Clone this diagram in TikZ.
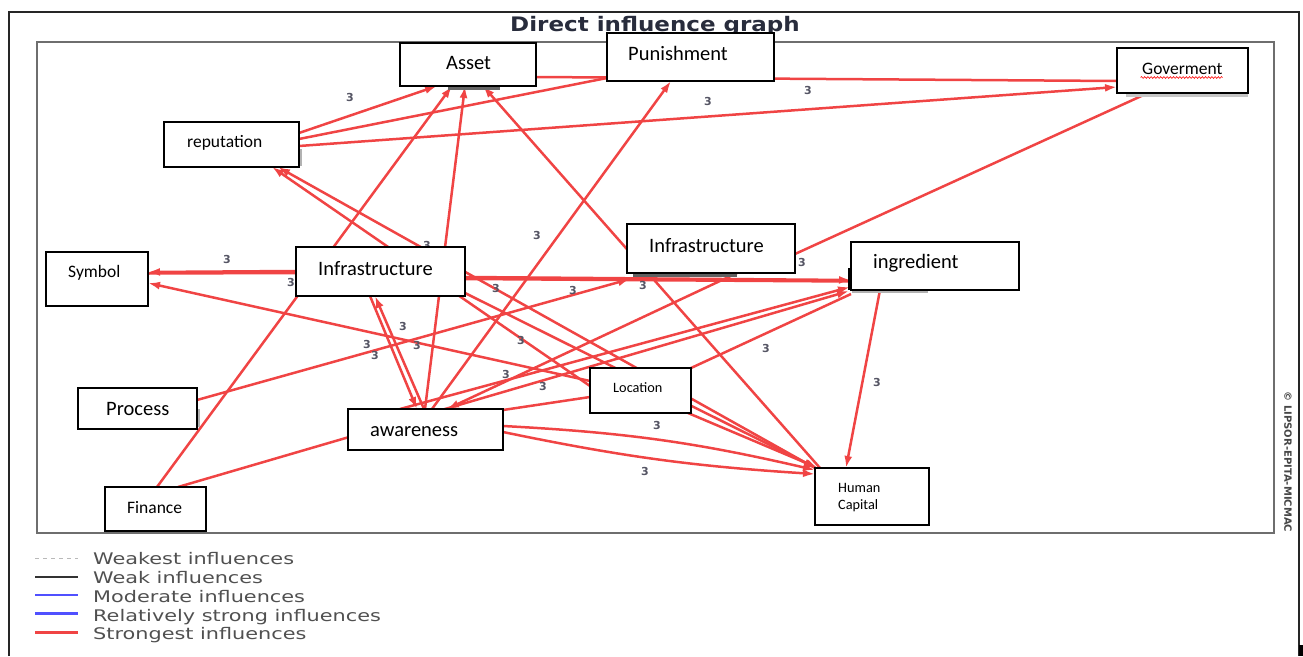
\documentclass[tikz,border=0pt]{standalone}
\usepackage{fontspec}
\setmainfont{Carlito}
\newfontfamily\legfont{DejaVu Sans}
\usetikzlibrary{arrows.meta,calc,decorations.pathmorphing}
\definecolor{edgered}{RGB}{240,68,68}
\definecolor{numgray}{RGB}{85,85,100}
\definecolor{legtext}{RGB}{80,80,80}
\definecolor{titlecol}{RGB}{40,44,60}
\definecolor{framegray}{RGB}{110,110,110}
\definecolor{modblue}{RGB}{80,80,255}
\pgfdeclarelayer{base}
\pgfdeclarelayer{edgelayer}
\pgfdeclarelayer{numlayer}
\pgfsetlayers{base,edgelayer,numlayer,main}
\begin{document}
\begin{tikzpicture}[x=1pt,y=-1pt,
  box/.style={draw=black,line width=1.4pt,fill=white,inner sep=0pt,rectangle},
  lbl/.style={inner sep=0pt,anchor=base west,font=\fontsize{20.5}{24}\selectfont},
  lblm/.style={lbl,font=\fontsize{17.5}{21}\selectfont},
  lbls/.style={lbl,font=\fontsize{14.3}{17}\selectfont},
  edge/.style={draw=edgered,line width=2.5pt,-{Latex[length=12pt,width=8pt]}},
  edgeplain/.style={draw=edgered,line width=2.5pt},
  num/.style={font=\legfont\bfseries\fontsize{11}{12}\selectfont,text=numgray,inner sep=0pt},
  shadowbox/.style={fill=gray!80!black,draw=none},
  legtxt/.style={anchor=base west,inner sep=0pt,text=legtext,font=\legfont\fontsize{16}{18}\selectfont},
]
\useasboundingbox (0,0) rectangle (1303,656);

% ---- boxes ----
\node[box,minimum width=136pt,minimum height=43pt] (asset) at (468,64.5) {};
\node[box,minimum width=167pt,minimum height=48pt] (pun) at (690.5,57) {};
\node[box,minimum width=131pt,minimum height=45pt] (gov) at (1182.5,70.5) {};
\node[box,minimum width=135pt,minimum height=45pt] (rep) at (231.5,144.5) {};
\node[box,minimum width=102pt,minimum height=54pt] (sym) at (97,279) {};
\node[box,minimum width=169pt,minimum height=49pt] (infL) at (380.5,271.5) {};
\node[box,minimum width=168pt,minimum height=49pt] (infR) at (711,248.5) {};
\node[box,minimum width=168pt,minimum height=48pt] (ingr) at (935,266) {};
\node[box,minimum width=101pt,minimum height=45pt] (loc) at (640.5,390.5) {};
\node[box,minimum width=119pt,minimum height=41pt] (proc) at (137.5,408.5) {};
\node[box,minimum width=155pt,minimum height=41pt] (awr) at (425.5,429.5) {};
\node[box,minimum width=101pt,minimum height=44pt] (fin) at (155.5,509) {};
\node[box,minimum width=114pt,minimum height=57pt] (hc) at (872,496.5) {};

% ---- box texts ----
\node[lbl] (assetT) at (446,69) {Asset};
\node[lbl] (punT) at (628,60) {Punishment};
\node[lblm] (govT) at (1142,74) {Goverment};
\node[lblm] (repT) at (187,147) {reputation};
\node[lblm] (symT) at (68,277) {Symbol};
\node[lbl] (infLT) at (318,275) {Infrastructure};
\node[lbl] (infRT) at (649,252) {Infrastructure};
\node[lbl] (ingrT) at (873,268) {ingredient};
\node[lbls] (locT) at (613,392) {Location};
\node[lbl] (procT) at (106,415) {Process};
\node[lbl] (awrT) at (370,436) {awareness};
\node[lblm] (finT) at (127,513) {Finance};
\node[lbls] (hcT1) at (838,492) {Human};
\node[lbls] (hcT2) at (838,509) {Capital};
\draw[red,line width=0.6pt,decorate,decoration={snake,amplitude=0.9pt,segment length=3.2pt}]
  ($(gov)+(-42,7)$) -- ($(gov)+(40,7)$);

% ---- frames and title ----
\begin{pgfonlayer}{base}
  \draw[line width=2.5pt,black!85] (9,656) -- (9,12) -- (1299,12) -- (1299,656);
  \fill[black] (1299,645) rectangle (1303,656);
  \draw[line width=2pt,framegray] (36.5,42) rectangle (1274,533);
  \begin{scope}
    \clip (500,0) rectangle (830,33);
    \node[anchor=base west,inner sep=0pt,text=titlecol,font=\legfont\bfseries\fontsize{20}{24}\selectfont] (title) at (510,31.7) {\scalebox{1.15}[1]{Direct influence graph}};
  \end{scope}
\end{pgfonlayer}

% ---- shadows and numbers ----
\begin{pgfonlayer}{numlayer}
  \fill[shadowbox] ($(asset)+(-20,21.5)$) rectangle ($(asset)+(32,25.5)$);
  \fill[gray!45] ($(gov)+(-57,22.5)$) rectangle ($(gov)+(65.5,26)$);
  \fill[gray!60] ($(rep)+(67.5,4)$) rectangle ($(rep)+(70.5,21)$);
  \fill[gray!75!black] ($(infR)+(-78,24.5)$) rectangle ($(infR)+(26,28.5)$);
  \fill[black] ($(ingr)+(-87,2)$) rectangle ($(ingr)+(-83,24)$);
  \fill[gray!60] ($(ingr)+(-83,24)$) rectangle ($(ingr)+(-7,27)$);
  \fill[gray!60] ($(proc)+(59.5,0)$) rectangle ($(proc)+(62.5,18)$);
  \foreach [count=\i] \p in {(350,97),(708,101),(808,90),(537,235),(227,259),(291,282),(427,245),(496,288),(573,290),(643,285),(802,262),(403,326),(367,344),(375,355),(417,345),(521,340),(506,374),(543,386),(766,348),(877,382),(657,425),(645,471)}
    \node[num] (n\i) at \p {3};
\end{pgfonlayer}

% ---- connectors ----
\begin{pgfonlayer}{edgelayer}
  \draw[edge] ($(rep)+(67.5,-11.5)$) -- ($(asset)+(-31,21.5)$);
  \draw[edgeplain] ($(rep)+(67.5,-5.5)$) -- ($(pun)+(-83.5,21)$);
  \draw[edge] ($(rep)+(67.5,1.5)$) -- ($(gov)+(-65.5,16.5)$);
  \draw[edgeplain] ($(asset)+(68,12.5)$) -- ($(gov)+(-65.5,10.5)$);
  \draw[edge] ($(fin)+(1.5,-22)$) -- ($(asset)+(-16,21.5)$);
  \draw[edge] ($(awr)+(-0.5,-20.5)$) -- ($(asset)+(-3,21.5)$);
  \draw[edge] ($(hc)+(-52,-28.5)$) -- ($(asset)+(15,21.5)$);
  \draw[edge] ($(awr)+(6.5,-20.5)$) -- ($(pun)+(-19.5,24)$);
  \draw[edge] ($(infL)+(-84.5,-0.5)$) -- ($(sym)+(51,-7)$);
  \draw[edgeplain] ($(sym)+(51,-5.5)$) -- ($(infL)+(-84.5,1.5)$);
  \draw[edge] ($(loc)+(-50.5,-9.5)$) -- ($(sym)+(51,4)$);
  \draw[edge] ($(infL)+(84.5,5.5)$) -- ($(ingr)+(-84,14)$);
  \draw[edgeplain] ($(infL)+(84.5,7.5)$) -- ($(ingr)+(-84,15.5)$);
  \draw[edge] ($(proc)+(59.5,-8.5)$) -- ($(infR)+(-81,30.5)$);
  \draw[edge] ($(infL)+(-10.5,24.5)$) -- ($(awr)+(-8.5,-20.5)$);
  \draw[edge] ($(awr)+(-1.5,-20.5)$) -- ($(infL)+(-5.5,24.5)$);
  \draw[edge] ($(fin)+(22.5,-22)$) -- ($(ingr)+(-86,25)$);
  \draw[edgeplain] ($(loc)+(50.5,-22.5)$) -- ($(ingr)+(-84,28)$);
  \draw[edge] ($(infR)+(26,24.5)$) -- ($(awr)+(21.5,-20.5)$);
  \draw[edge] ($(ingr)+(-55,24)$) -- ($(hc)+(-26,-28.5)$);
  \draw[edgeplain] ($(infR)+(84,5.5)$) -- ($(gov)+(-34.5,22.5)$);
  \draw[edge] ($(awr)+(77.5,-3.5)$) to[bend left=5] ($(hc)+(-57,-26.5)$);
  \draw[edge] ($(awr)+(77.5,2.5)$) to[bend right=4] ($(hc)+(-57,-22.5)$);
  \draw[edge] ($(loc)+(47.5,22.5)$) -- ($(hc)+(-54,-28.5)$);
  \draw[edge] ($(hc)+(-57,-28.5)$) -- ($(rep)+(46.5,22.5)$);
  \draw[edge] ($(loc)+(-50.5,-4.5)$) -- ($(rep)+(40.5,22.5)$);
  \draw[edge] ($(infL)+(84.5,21.5)$) -- ($(hc)+(-56,-28.5)$);
  \draw[edge] ($(awr)+(-25.5,-20.5)$) -- ($(ingr)+(-85,21)$);
  \draw[edgeplain] ($(loc)+(-50.5,6.5)$) -- ($(awr)+(77.5,-19.5)$);
\end{pgfonlayer}

% ---- legend ----
\coordinate (lgA) at (35,558);
\coordinate (lgB) at (78,558);
\draw[line width=1pt,gray!55,dash pattern=on 4pt off 4pt] (lgA) -- (lgB);
\draw[line width=1.2pt,black!80] ($(lgA)+(0,19)$) -- ($(lgB)+(0,19)$);
\draw[line width=1.3pt,modblue] ($(lgA)+(0,37)$) -- ($(lgB)+(0,37)$);
\draw[line width=3pt,modblue] ($(lgA)+(0,55)$) -- ($(lgB)+(0,55)$);
\draw[line width=3pt,edgered] ($(lgA)+(0,74)$) -- ($(lgB)+(0,74)$);
\node[legtxt] (lg1) at (93,564) {\scalebox{1.3}[1]{Weakest influences}};
\node[legtxt] (lg2) at (93,583) {\scalebox{1.3}[1]{Weak influences}};
\node[legtxt] (lg3) at (93,602) {\scalebox{1.3}[1]{Moderate influences}};
\node[legtxt] (lg4) at (93,621) {\scalebox{1.3}[1]{Relatively strong influences}};
\node[legtxt] (lg5) at (93,639) {\scalebox{1.3}[1]{Strongest influences}};

% ---- copyright ----
\node[rotate=-90,inner sep=0pt,text=gray!55!black,font=\legfont\bfseries\fontsize{10}{12}\selectfont] (copy) at (1288,462) {© LIPSOR-EPITA-MICMAC};
\end{tikzpicture}
\end{document}
